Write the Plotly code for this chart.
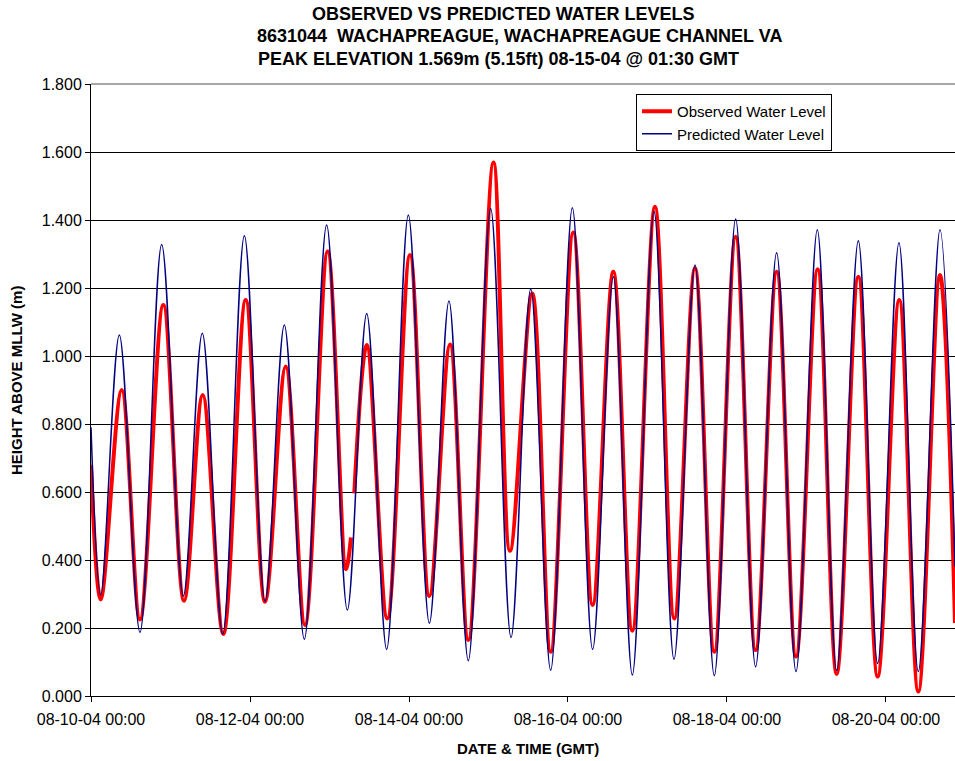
import plotly.graph_objects as go

# ---------------- data ----------------
pred_times = [
    "2004-08-10 00:00", "2004-08-10 02:56", "2004-08-10 08:33", "2004-08-10 14:47",
    "2004-08-10 21:20", "2004-08-11 03:52", "2004-08-11 09:36", "2004-08-11 15:45",
    "2004-08-11 22:18", "2004-08-12 04:32", "2004-08-12 10:22", "2004-08-12 16:24",
    "2004-08-12 23:08", "2004-08-13 05:23", "2004-08-13 11:14", "2004-08-13 17:15",
    "2004-08-13 23:48", "2004-08-14 06:09", "2004-08-14 12:04", "2004-08-14 17:54",
    "2004-08-15 00:39", "2004-08-15 06:48", "2004-08-15 12:45", "2004-08-15 18:46",
    "2004-08-16 01:19", "2004-08-16 07:26", "2004-08-16 13:41", "2004-08-16 19:25",
    "2004-08-17 01:58", "2004-08-17 08:00", "2004-08-17 14:20", "2004-08-17 20:10",
    "2004-08-18 02:37", "2004-08-18 08:38", "2004-08-18 14:59", "2004-08-18 20:50",
    "2004-08-19 03:16", "2004-08-19 09:06", "2004-08-19 15:39", "2004-08-19 21:29",
    "2004-08-20 03:55", "2004-08-20 09:45", "2004-08-20 16:18", "2004-08-20 20:50",
]
pred_levels = [
    0.790, 0.297, 1.062, 0.187,
    1.328, 0.294, 1.067, 0.182,
    1.354, 0.279, 1.091, 0.167,
    1.385, 0.253, 1.125, 0.137,
    1.415, 0.214, 1.162, 0.104,
    1.434, 0.172, 1.197, 0.076,
    1.436, 0.137, 1.233, 0.062,
    1.426, 0.108, 1.268, 0.060,
    1.403, 0.086, 1.304, 0.072,
    1.371, 0.075, 1.339, 0.096,
    1.333, 0.072, 1.371, 0.380,
]

obs_times = [
    "2004-08-10 00:00", "2004-08-10 02:56", "2004-08-10 09:16", "2004-08-10 14:47",
    "2004-08-10 21:50", "2004-08-11 04:05", "2004-08-11 09:43", "2004-08-11 15:56",
    "2004-08-11 22:42", "2004-08-12 04:32", "2004-08-12 10:47", "2004-08-12 16:36",
    "2004-08-12 23:27", "2004-08-13 05:00", "2004-08-13 06:29", "2004-08-13 07:00",
    "2004-08-13 07:29", "2004-08-13 11:14", "2004-08-13 17:27", "2004-08-14 00:18",
    "2004-08-14 06:09", "2004-08-14 12:23", "2004-08-14 17:54", "2004-08-15 01:30",
    "2004-08-15 06:29", "2004-08-15 13:13", "2004-08-15 18:46", "2004-08-16 01:36",
    "2004-08-16 07:26", "2004-08-16 13:41", "2004-08-16 19:25", "2004-08-17 02:15",
    "2004-08-17 08:05", "2004-08-17 14:20", "2004-08-17 20:10", "2004-08-18 02:37",
    "2004-08-18 08:38", "2004-08-18 15:00", "2004-08-18 20:50", "2004-08-19 03:22",
    "2004-08-19 09:06", "2004-08-19 15:39", "2004-08-19 21:29", "2004-08-20 04:00",
    "2004-08-20 09:45", "2004-08-20 16:18", "2004-08-20 20:50",
]
obs_levels = [
    0.680, 0.284, 0.900, 0.225,
    1.150, 0.280, 0.885, 0.182,
    1.165, 0.277, 0.969, 0.209,
    1.307, 0.373, 0.466, None,
    0.596, 1.032, 0.228, 1.297,
    0.294, 1.034, 0.165, 1.569,
    0.427, 1.184, 0.130, 1.363,
    0.268, 1.248, 0.192, 1.439,
    0.228, 1.258, 0.130, 1.351,
    0.135, 1.248, 0.116, 1.255,
    0.065, 1.233, 0.057, 1.165,
    0.013, 1.238, 0.215,
]

title_lines = [
    "OBSERVED VS PREDICTED WATER LEVELS",
    "8631044  WACHAPREAGUE, WACHAPREAGUE CHANNEL VA",
    "PEAK ELEVATION 1.569m (5.15ft) 08-15-04 @ 01:30 GMT",
]
x_title = "DATE & TIME (GMT)"
y_title = "HEIGHT ABOVE MLLW (m)"

FONT = "Liberation Sans, Arial, Helvetica, sans-serif"

fig = go.Figure()
fig.add_trace(go.Scatter(
    x=obs_times, y=obs_levels, mode="lines", name="Observed Water Level",
    line=dict(color="#FF0000", width=4, shape="spline", smoothing=1.0),
    connectgaps=False,
))
fig.add_trace(go.Scatter(
    x=pred_times, y=pred_levels, mode="lines", name="Predicted Water Level",
    line=dict(color="#000080", width=1.5, shape="spline", smoothing=1.0),
))

# plot area pixels: x 91..955, y 84..696
L, R, T, B = 91, 955, 84, 696
W, H = R - L, B - T

def px(xp):
    return (xp - L) / W

def py(yp):
    return (B - yp) / H

annotations = []
for txt, cx, cy in zip(title_lines, [503, 519, 498], [14, 36, 59]):
    annotations.append(dict(text="<b>%s</b>" % txt, x=px(cx), y=py(cy), xref="paper", yref="paper",
                            showarrow=False, xanchor="center", yanchor="middle",
                            font=dict(family=FONT, size=18, color="black")))
annotations.append(dict(text="<b>%s</b>" % x_title, x=px(528), y=py(748), xref="paper", yref="paper",
                        showarrow=False, xanchor="center", yanchor="middle",
                        font=dict(family=FONT, size=15, color="black")))
annotations.append(dict(text="<b>%s</b>" % y_title, x=px(16), y=py(381), xref="paper", yref="paper",
                        showarrow=False, xanchor="center", yanchor="middle", textangle=-90,
                        font=dict(family=FONT, size=15, color="black")))

fig.update_layout(
    width=955, height=761,
    margin=dict(l=L, r=955 - R, t=T, b=761 - B, pad=0),
    paper_bgcolor="white", plot_bgcolor="white",
    font=dict(family=FONT, size=16, color="black"),
    showlegend=True,
    legend=dict(x=px(636), y=py(94), xanchor="left", yanchor="top",
                bordercolor="black", borderwidth=1, bgcolor="white",
                font=dict(family=FONT, size=15, color="black"),
                tracegroupgap=0, itemwidth=30),
    annotations=annotations,
    shapes=[dict(type="line", xref="paper", yref="paper", x0=0, x1=1, y0=1, y1=1,
                 line=dict(color="#a8a8a8", width=2))],
)
fig.update_xaxes(
    type="date", range=["2004-08-10 00:00", "2004-08-20 20:50"],
    tick0="2004-08-10 00:00", dtick=2 * 86400000, tickformat="%m-%d-%y %H:%M",
    ticks="outside", ticklen=5, tickcolor="black", tickwidth=1, ticklabelstandoff=4,
    showline=True, linecolor="black", linewidth=1, showgrid=False, zeroline=False,
    tickfont=dict(family=FONT, size=16, color="black"),
)
fig.update_yaxes(
    range=[0, 1.8], tick0=0, dtick=0.2, tickformat=".3f",
    ticks="outside", ticklen=5, tickcolor="black", tickwidth=1,
    showline=True, linecolor="black", linewidth=1,
    showgrid=True, gridcolor="black", gridwidth=1, zeroline=False,
    tickfont=dict(family=FONT, size=16, color="black"),
)

fig.write_html(
    "out.html",
    config={"displayModeBar": False},
    post_script="document.body.style.margin='0';document.body.style.padding='0';"
                "document.body.style.overflow='hidden';",
)
